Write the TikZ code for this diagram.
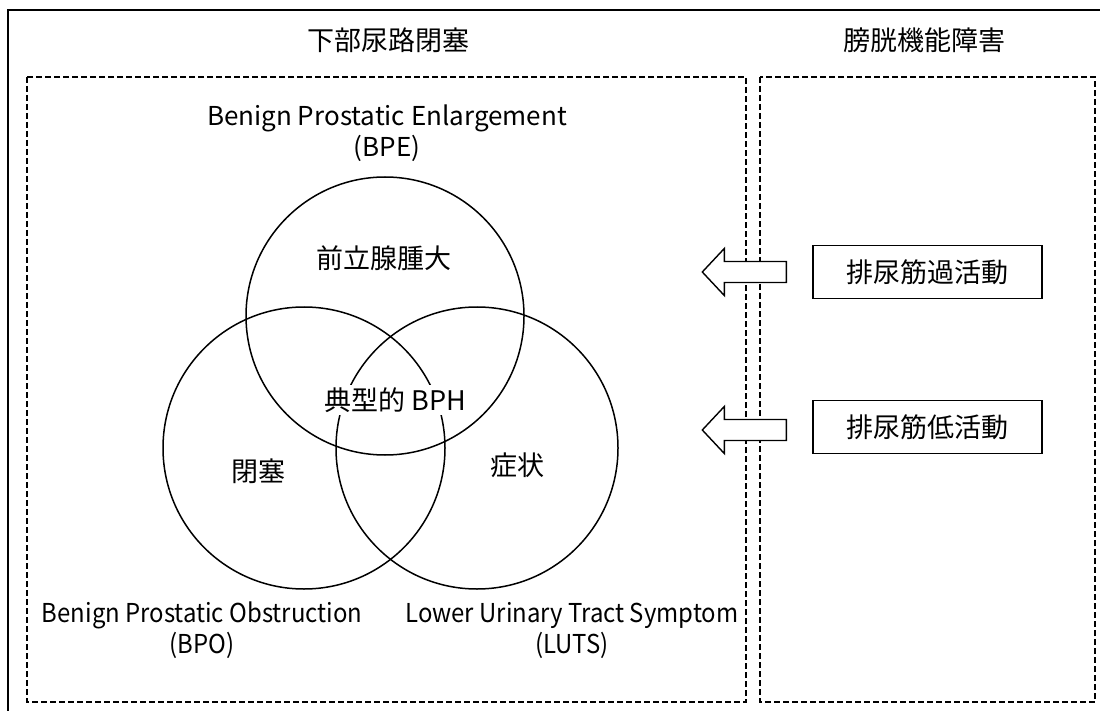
\documentclass[tikz,border=0pt]{standalone}
\usepackage{fontspec}
\usepackage{graphicx}
\setmainfont{Noto Sans CJK JP}
\newcommand\cond[1]{\scalebox{0.92}[1]{#1}}
\begin{document}
\begin{tikzpicture}[x=1pt,y=-1pt,
  frame/.style={line width=2pt},
  dbox/.style={draw, dash pattern=on 6pt off 3pt, line width=1.3pt},
  venn/.style={draw, circle, line width=1.5pt, inner sep=0pt},
  cjk/.style={font=\fontsize{27}{30}\selectfont, inner sep=0pt},
  lat/.style={font=\fontsize{26}{31}\selectfont, inner sep=0pt, align=center},
  lbox/.style={draw, line width=1.4pt, minimum width=229pt, minimum height=53pt, inner sep=0pt, font=\fontsize{27}{30}\selectfont},
  barrow/.style={draw, fill=white, line width=1.4pt, line join=miter},
  larrow/.pic={\draw[barrow] (0,-10.5) -- (-62,-10.5) -- (-62,-23.5) -- (-84,0) -- (-62,23.5) -- (-62,10.5) -- (0,10.5) -- cycle;}]
\useasboundingbox (0,0) rectangle (1100,711);
\fill[white] (0,0) rectangle (1100,711);
% outer frame (cut off at right and bottom)
\draw[frame] (8,711) -- (8,10) -- (1100,10);
% dashed panels
\draw[dbox] (27,77) rectangle (746,702);
\draw[dbox] (760,77) rectangle (1095,702);
% titles
\node[cjk] (t1) at (388,40) {下部尿路閉塞};
\node[cjk] (t2) at (924,40) {膀胱機能障害};
% Venn circles
\node[venn, minimum size=278pt] (bpe) at (385,316) {};
\node[venn, minimum size=282pt] (bpo) at (304,448) {};
\node[venn, minimum size=282pt] (luts) at (477,448) {};
% circle texts
\node[cjk] (c1) at (384,258) {前立腺腫大};
\node[cjk, fill=white, inner sep=3pt] (c0) at (395,400) {典型的 BPH};
\node[cjk] (c2) at (258,471) {閉塞};
\node[cjk] (c3) at (517,465) {症状};
% outer labels
\node[lat] (l1) at (387,133) {Benign Prostatic Enlargement\\(BPE)};
\node[lat] (l2) at (202,630) {\cond{Benign Prostatic Obstruction}\\\cond{(BPO)}};
\node[lat] (l3) at (572,630) {\cond{Lower Urinary Tract Symptom}\\\cond{(LUTS)}};
% bladder boxes
\node[lbox] (b1) at (927.5,272) {排尿筋過活動};
\node[lbox] (b2) at (927.5,427) {排尿筋低活動};
% block arrows
\pic at ([xshift=-26pt]b1.west) {larrow};
\pic at ([xshift=-26pt,yshift=-3pt]b2.west) {larrow};
\end{tikzpicture}
\end{document}
